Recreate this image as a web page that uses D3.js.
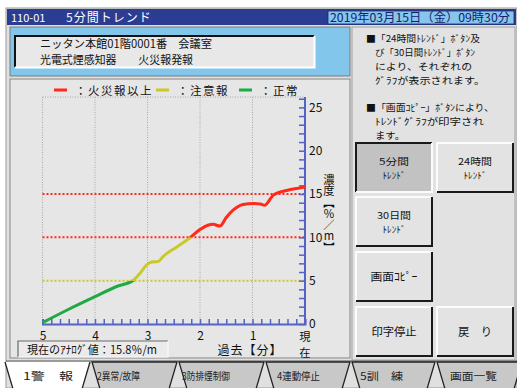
<!DOCTYPE html>
<html><head><meta charset="utf-8">
<script src="https://cdn.jsdelivr.net/npm/d3@7"></script>
<style>
body{margin:0;background:#fff;}
svg text{font-family:"Noto Sans CJK JP","Noto Sans",sans-serif;}
</style></head>
<body><svg id="c" width="517" height="388"></svg>
<script>
// ---- data ----
const pastMinutes = [5.0, 4.5, 4.0, 3.6, 3.27, 3.15, 3.02, 2.92, 2.8, 2.7, 2.63, 2.44, 2.19, 2.0, 1.85, 1.75, 1.62, 1.5, 1.37, 1.18, 0.98, 0.85, 0.77, 0.6, 0.35, 0.15, 0.0];
const concentration = [0.15, 1.7, 3.15, 4.3, 5.05, 5.8, 6.8, 7.15, 7.2, 7.8, 8.15, 8.9, 9.95, 10.9, 11.4, 11.5, 11.3, 12.3, 13.15, 13.8, 13.9, 13.85, 13.7, 14.9, 15.4, 15.65, 15.8];
const thresholds = [15, 10, 5];
const thresholdLevels = ["fire", "fire", "caution"];
const xTickLabels = [5, 4, 3, 2, 1];
const yTickLabels = [0, 5, 10, 15, 20, 25];
const legendLabels = ["：火災報以上", "：注意報", "：正常"];
const legendKeys = ["fire", "caution", "normal"];
const tabLabels = ["1警　報", "2異常/故障", "3防排煙制御", "4連動停止", "5訓　練", "画面一覧"];
const infoParagraphs = [["■「24時間ﾄﾚﾝﾄﾞ」ﾎﾞﾀﾝ及", "び「30日間ﾄﾚﾝﾄﾞ」ﾎﾞﾀﾝ", "により、それぞれの", "ｸﾞﾗﾌが表示されます。"], ["■「画面ｺﾋﾟｰ」ﾎﾞﾀﾝにより、", "ﾄﾚﾝﾄﾞｸﾞﾗﾌが印字され", "ます。"]];
const buttonLabels = [["5分間", "ﾄﾚﾝﾄﾞ"], ["24時間", "ﾄﾚﾝﾄﾞ"], ["30日間", "ﾄﾚﾝﾄﾞ"], ["画面ｺﾋﾟｰ"], ["印字停止"], ["戻　り"]];
const yAxisTitle = "濃度【%／m】";

const colors = {fire: "#ff2a1a", caution: "#c9c928", normal: "#1faa44"};
const svg = d3.select("#c");
const FONT = '"Noto Sans CJK JP","Noto Sans",sans-serif';

// window
svg.append("rect").attr("x", 6).attr("y", 8).attr("width", 511).attr("height", 380).attr("fill", "#e0e0e0").attr("stroke", "#9a9a9a");
// title bar
svg.append("rect").attr("x", 7).attr("y", 9).attr("width", 509).attr("height", 16).attr("fill", "#2b3d92");
svg.append("text").attr("x", 11).attr("y", 21.5).attr("fill", "#fff").attr("font-size", 11).text("110-01");
svg.append("text").attr("x", 66).attr("y", 21.5).attr("fill", "#fff").attr("font-size", 12).attr("letter-spacing", 1).text("5分間トレンド");
svg.append("rect").attr("x", 328).attr("y", 11).attr("width", 186).attr("height", 13).attr("fill", "#86c6ee").attr("stroke", "#1c2a66").attr("stroke-width", 0.8);
svg.append("text").attr("x", 330).attr("y", 22).attr("fill", "#16206a").attr("font-size", 12).attr("textLength", 180).attr("lengthAdjust", "spacingAndGlyphs").text("2019年03月15日（金）09時30分");

// light blue panel
svg.append("rect").attr("x", 10).attr("y", 27).attr("width", 340).attr("height", 49).attr("fill", "#82c6ec").attr("stroke", "#7a7a7a");
svg.append("rect").attr("x", 15).attr("y", 36).attr("width", 299).attr("height", 31).attr("fill", "#e8e8e8");
svg.append("path").attr("d", "M15,67 L15,36 L314,36").attr("fill", "none").attr("stroke", "#111").attr("stroke-width", 2);
svg.append("path").attr("d", "M15,67.5 L314.5,67.5 L314.5,36").attr("fill", "none").attr("stroke", "#fff").attr("stroke-width", 2);
svg.append("text").attr("x", 40).attr("y", 47.5).attr("font-size", 11.3).attr("fill", "#111").attr("textLength", 172).attr("lengthAdjust", "spacingAndGlyphs").text("ニッタン本館01階0001番　会議室");
svg.append("text").attr("x", 40).attr("y", 64).attr("font-size", 11.3).attr("fill", "#111").attr("textLength", 153).attr("lengthAdjust", "spacingAndGlyphs").text("光電式煙感知器　　火災報発報");

// chart panel
svg.append("rect").attr("x", 10).attr("y", 79).attr("width", 340).attr("height", 279).attr("fill", "#e6e6e6").attr("stroke", "#858585");
// right panel
svg.append("rect").attr("x", 352).attr("y", 27).attr("width", 163).attr("height", 333).attr("fill", "#e2e2e2").attr("stroke", "#a0a0a0");

// scales
const x = d3.scaleLinear().domain([5, 0]).range([42.5, 305]);
const y = d3.scaleLinear().domain([0, 26.2]).range([324, 97]);

// grid
const g = svg.append("g");
g.selectAll(".vg").data(xTickLabels).join("line")
  .attr("x1", d => x(d)).attr("x2", d => x(d)).attr("y1", y(26.2)).attr("y2", y(0))
  .attr("stroke", "#a8a8a8").attr("stroke-width", 1).attr("stroke-dasharray", "1,1.5");
g.append("line").attr("x1", x(5)).attr("x2", x(0)).attr("y1", y(26.2)).attr("y2", y(26.2))
  .attr("stroke", "#a8a8a8").attr("stroke-dasharray", "1,1.5");

// threshold lines
g.selectAll(".th").data(thresholds).join("line")
  .attr("x1", x(5)).attr("x2", x(0)).attr("y1", d => y(d)).attr("y2", d => y(d))
  .attr("stroke", (d, i) => colors[thresholdLevels[i]]).attr("stroke-width", 2).attr("stroke-dasharray", "2,2");

// axes
const axisColor = "#5563c4";
const xMinor = d3.range(0, 31).map(i => i / 6);
const xa = g.append("g").attr("transform", `translate(0,${y(0)})`)
  .call(d3.axisTop(x).tickValues(xMinor).tickSize(5).tickFormat(""));
xa.selectAll("line").attr("stroke", axisColor).attr("stroke-width", 1.5);
xa.select(".domain").attr("stroke", axisColor).attr("stroke-width", 2);
const xl = g.append("g").attr("transform", `translate(0,${y(0)})`)
  .call(d3.axisBottom(x).tickValues(xTickLabels).tickSize(0).tickPadding(7).tickFormat(d3.format("d")));
xl.select(".domain").remove();
xl.selectAll("text").attr("font-family", FONT).attr("font-size", 12).attr("fill", "#111");
g.append("text").attr("x", x(0)).attr("y", 340.5).attr("text-anchor", "middle").attr("font-size", 11.3).attr("fill", "#111").text("現");
g.append("text").attr("x", x(0)).attr("y", 357).attr("text-anchor", "middle").attr("font-size", 11.3).attr("fill", "#111").text("在");
g.append("text").attr("x", 250).attr("y", 355).attr("text-anchor", "middle").attr("font-size", 12).attr("fill", "#111").attr("letter-spacing", 1).text("過去【分】");

const yMinor = d3.range(0, 27);
const ya = g.append("g").attr("transform", `translate(${x(0)},0)`)
  .call(d3.axisLeft(y).tickValues(yMinor).tickSize(6).tickFormat(""));
ya.selectAll("line").attr("stroke", axisColor).attr("stroke-width", 1.5);
ya.select(".domain").attr("stroke", axisColor).attr("stroke-width", 2).attr("d", `M0,${y(26.2)}V${y(0)}`);
const yl = g.append("g").attr("transform", `translate(${x(0)},0)`)
  .call(d3.axisRight(y).tickValues(yTickLabels).tickSize(0).tickPadding(4));
yl.select(".domain").remove();
yl.selectAll("text").attr("font-family", FONT).attr("font-size", 12).attr("fill", "#111");

// vertical y-axis title (single text, vertical writing)
g.append("text").attr("x", 329).attr("y", 174)
  .attr("font-size", 11.3).attr("fill", "#111")
  .style("writing-mode", "vertical-rl").style("text-orientation", "upright")
  .text(yAxisTitle);

// legend
const legendX = [[54, 75], [156, 177], [239, 260]];
legendKeys.forEach((k, i) => {
  g.append("line").attr("x1", legendX[i][0]).attr("x2", legendX[i][0] + 13).attr("y1", 90).attr("y2", 90)
    .attr("stroke", colors[k]).attr("stroke-width", 3);
  g.append("text").attr("x", legendX[i][1]).attr("y", 94.5).attr("font-size", 11.5).attr("fill", "#111")
    .attr("letter-spacing", 1.5).text(legendLabels[i]);
});

// curve, coloured by band
const pts = pastMinutes.map((t, i) => [t, concentration[i]]);
const line = d3.line().x(d => x(d[0])).y(d => y(d[1])).curve(d3.curveMonotoneX);
const bands = [["normal", 0, 5], ["caution", 5, 10], ["fire", 10, 26.2]];
const defs = svg.append("defs");
bands.forEach(([k, lo, hi]) => {
  const top = lo === 10 ? 90 : y(hi);
  const bottom = lo === 0 ? y(lo) + 6 : y(lo);
  defs.append("clipPath").attr("id", "clip-" + k).append("rect")
    .attr("x", 30).attr("width", 290).attr("y", top).attr("height", bottom - top);
  g.append("path").datum(pts).attr("d", line).attr("fill", "none")
    .attr("stroke", colors[k]).attr("stroke-width", 3).attr("stroke-linejoin", "round")
    .attr("clip-path", `url(#clip-${k})`);
});

// analog value box
svg.append("rect").attr("x", 18).attr("y", 341).attr("width", 150).attr("height", 16).attr("fill", "#ebebeb");
svg.append("path").attr("d", "M18,357 L18,341 L168,341").attr("fill", "none").attr("stroke", "#6a6a6a").attr("stroke-width", 1.2);
svg.append("path").attr("d", "M18,357 L168,357 L168,341").attr("fill", "none").attr("stroke", "#fafafa").attr("stroke-width", 1.2);
svg.append("text").attr("x", 27).attr("y", 354).attr("font-size", 11.3).attr("fill", "#111").attr("textLength", 130).attr("lengthAdjust", "spacingAndGlyphs").text("現在のｱﾅﾛｸﾞ値：15.8％/m");

// info text
const infoLayout = [[[366, 42, 114], [375, 56, 100], [375, 70, 97], [375, 84, 110]], [[366, 111, 128], [375, 125, 109], [375, 139, 30]]];
infoParagraphs.forEach((para, p) => {
  para.forEach((s, i) => {
    const [lx, ly, lw] = infoLayout[p][i];
    svg.append("text").attr("font-size", 9.6).attr("fill", "#111")
      .attr("x", lx).attr("y", ly).attr("textLength", lw).attr("lengthAdjust", "spacingAndGlyphs").text(s);
  });
});

// buttons
const btnPos = [[356, 143], [437, 143], [356, 197], [356, 252], [356, 307], [437, 307]];
const btnW = 76, btnH = 49;
btnPos.forEach(([bx, by], i) => {
  const pressed = i === 0;
  svg.append("rect").attr("x", bx).attr("y", by).attr("width", btnW).attr("height", btnH).attr("fill", pressed ? "#c2c2c2" : "#e3e3e3");
  const tl = pressed ? "#1a1a1a" : "#fcfcfc", br = pressed ? "#fcfcfc" : "#1a1a1a";
  svg.append("path").attr("d", `M${bx},${by + btnH} L${bx},${by} L${bx + btnW},${by}`).attr("fill", "none").attr("stroke", tl).attr("stroke-width", 2);
  svg.append("path").attr("d", `M${bx},${by + btnH} L${bx + btnW},${by + btnH} L${bx + btnW},${by}`).attr("fill", "none").attr("stroke", br).attr("stroke-width", 2);
  const lines = buttonLabels[i];
  const cy = by + btnH / 2;
  lines.forEach((s, j) => {
    const two = lines.length === 2;
    const ty = two ? cy - 2.5 + j * 13.5 : cy + 4;
    const ts = svg.append("text").attr("text-anchor", "middle").attr("font-size", two ? 9.3 : 11.3).attr("fill", "#111")
      .attr("x", bx + btnW / 2).attr("y", ty).text(s);
    if (two) ts.attr("textLength", j === 0 ? (s.length === 3 ? 30 : 34) : 23).attr("lengthAdjust", "spacingAndGlyphs");
    if (s === "画面ｺﾋﾟｰ") ts.attr("textLength", 47).attr("lengthAdjust", "spacingAndGlyphs");
  });
});

// tabs
const tabEdges = [4, 91, 178, 265, 351, 436, 523];
const tabTextX = [23, 97, 182, 277, 360, 450];
const tabTextW = [50, 43, 48, 43, 43, 47];
svg.append("line").attr("x1", 6).attr("x2", 517).attr("y1", 361).attr("y2", 361).attr("stroke", "#555");
tabLabels.forEach((t, i) => {
  const L = tabEdges[i] + 1, R = tabEdges[i + 1] - 1;
  const active = i === 0;
  svg.append("path").attr("d", `M${L},362 L${R},362 L${R - 8},389 L${L + 8},389 Z`)
    .attr("fill", active ? "#ffffff" : "#c8c8c8").attr("stroke", "none");
  svg.append("path").attr("d", `M${L + 8},389 L${L},362` + (active ? `M${R},362` : ` L${R},362`) + ` L${R - 8},389`)
    .attr("fill", "none").attr("stroke", "#222").attr("stroke-width", 1.3);
  svg.append("text").attr("x", tabTextX[i]).attr("y", 380).attr("font-size", 10.5).attr("fill", "#222")
    .attr("textLength", tabTextW[i]).attr("lengthAdjust", "spacingAndGlyphs").text(t);
});
</script></body></html>
